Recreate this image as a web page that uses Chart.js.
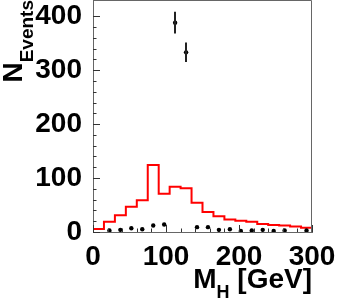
<!DOCTYPE html>
<html>
<head>
<meta charset="utf-8">
<script src="https://cdn.jsdelivr.net/npm/chart.js@4/dist/chart.umd.min.js"></script>
<style>
html,body{margin:0;padding:0;background:#fff;}
canvas{display:block;}
</style>
</head>
<body>
<canvas id="c" width="337" height="300"></canvas>
<script>
// ---- data ----
const binEdges = [0,15,30,45,60,75,90,105,120,135,150,165,180,195,210,225,240,255,270,285,300];
const bkgCounts = [5.5,19,31,47,59,124,71,84,81,54,37,29,23,21,19,15,13,12,10,8];
const dataCounts = [null,3,4,7,5,12,14,388,333,9,9,4,5,2,3,4,2,3,null,3];
const dataErrors = [0,0,0,0,0,0,0,20,18,0,0,0,0,0,0,0,0,0,0,0];
const xTickLabels = [0,100,200,300];
const yTickLabels = [0,100,200,300,400];

const FONT = "'Liberation Sans', Arial, Helvetica, sans-serif";

const histPts = bkgCounts.map((v,i)=>({x:binEdges[i], y:v}));
histPts.push({x:binEdges[binEdges.length-1], y:bkgCounts[bkgCounts.length-1]});
const dataPts = [];
dataCounts.forEach((v,i)=>{ if(v!==null) dataPts.push({x:(binEdges[i]+binEdges[i+1])/2, y:v, e:dataErrors[i]}); });

const decor = {
  id:'decor',
  afterDatasetsDraw(chart){
    const ctx = chart.ctx, xs = chart.scales.x, ys = chart.scales.y;
    ctx.save();
    ctx.strokeStyle = '#222'; ctx.lineWidth = 2;
    dataPts.forEach(p=>{
      if(p.e>0){
        const px = Math.round(xs.getPixelForValue(p.x));
        ctx.beginPath();
        ctx.moveTo(px, ys.getPixelForValue(p.y+p.e));
        ctx.lineTo(px, ys.getPixelForValue(p.y-p.e));
        ctx.stroke();
      }
    });
    ctx.restore();
  },
  afterDraw(chart){
    const ctx = chart.ctx, xs = chart.scales.x, ys = chart.scales.y, a = chart.chartArea;
    ctx.save();
    ctx.strokeStyle = '#666'; ctx.lineWidth = 1;
    ctx.beginPath();
    ctx.moveTo(a.left, a.top+0.5); ctx.lineTo(a.right-0.5, a.top+0.5);
    ctx.lineTo(a.right-0.5, a.bottom);
    ctx.stroke();
    ctx.strokeStyle = '#333';
    ys.ticks.forEach(t=>{
      if(t.value % 20 !== 0) return;
      const py = Math.round(ys.getPixelForValue(t.value))+0.5;
      const len = yTickLabels.includes(t.value) ? 7 : 3.5;
      ctx.beginPath(); ctx.moveTo(a.left, py); ctx.lineTo(a.left+len, py); ctx.stroke();
    });
    xs.ticks.forEach(t=>{
      if(t.value % 20 !== 0) return;
      const px = Math.round(xs.getPixelForValue(t.value))+0.5;
      const len = xTickLabels.includes(t.value) ? 7 : 3.5;
      ctx.beginPath(); ctx.moveTo(px, a.bottom); ctx.lineTo(px, a.bottom-len); ctx.stroke();
    });
    ctx.fillStyle = '#000';
    ctx.save();
    ctx.rotate(-Math.PI/2);
    ctx.textBaseline = 'alphabetic'; ctx.textAlign = 'left';
    ctx.font = "bold 28px " + FONT;
    const wN = ctx.measureText('N').width;
    ctx.font = "bold 19px " + FONT;
    const wE = ctx.measureText('Events').width;
    const start = -(wN + wE);
    ctx.font = "bold 28px " + FONT;
    ctx.fillText('N', start, 22);
    ctx.font = "bold 19px " + FONT;
    ctx.fillText('Events', start + wN, 33);
    ctx.restore();
    ctx.textBaseline = 'alphabetic'; ctx.textAlign = 'left';
    ctx.font = "bold 28px " + FONT;
    const wM = ctx.measureText('M').width;
    const wG = ctx.measureText(' [GeV]').width;
    ctx.font = "bold 18px " + FONT;
    const wH = ctx.measureText('H').width;
    let sx = a.right - (wM + wH + wG);
    ctx.font = "bold 28px " + FONT;
    ctx.fillText('M', sx, 288);
    ctx.font = "bold 18px " + FONT;
    ctx.fillText('H', sx + wM, 298);
    ctx.font = "bold 28px " + FONT;
    ctx.fillText(' [GeV]', sx + wM + wH, 288);
    ctx.restore();
  }
};

new Chart(document.getElementById('c'), {
  type:'line',
  data:{
    datasets:[
      { data: histPts, borderColor:'#ff0000', borderWidth:2, stepped:true, pointRadius:0, fill:false, tension:0, order:2 },
      { data: dataPts, showLine:false, pointRadius:2.2, pointBackgroundColor:'#000', pointBorderColor:'#000', pointBorderWidth:0, order:1 }
    ]
  },
  options:{
    responsive:false,
    animation:false,
    devicePixelRatio:1,
    plugins:{ legend:{display:false}, tooltip:{enabled:false} },
    layout:{ padding:{left:0, right:25, top:0, bottom:0}, autoPadding:false },
    scales:{
      x:{
        type:'linear', min:0, max:300,
        grid:{display:false, drawTicks:false},
        border:{display:true, color:'#666', width:1},
        ticks:{ stepSize:20, autoSkip:false, maxRotation:0, padding:8, color:'#000',
          font:{family:FONT, size:28, weight:'bold'},
          callback:(v)=> xTickLabels.includes(v) ? String(v) : '' },
        afterFit:(s)=>{ s.height = 68; s.paddingLeft = 0; s.paddingRight = 0; s.paddingTop = 0; s.paddingBottom = 0; }
      },
      y:{
        type:'linear', min:0, max:430,
        grid:{display:false, drawTicks:false},
        border:{display:true, color:'#666', width:1},
        ticks:{ stepSize:20, autoSkip:false, padding:11, color:'#000',
          font:{family:FONT, size:28, weight:'bold'},
          callback:(v)=> yTickLabels.includes(v) ? String(v) : '' },
        afterFit:(s)=>{ s.width = 93; s.paddingLeft = 0; s.paddingRight = 0; s.paddingTop = 0; s.paddingBottom = 0; }
      }
    }
  },
  plugins:[decor]
});
</script>
</body>
</html>
